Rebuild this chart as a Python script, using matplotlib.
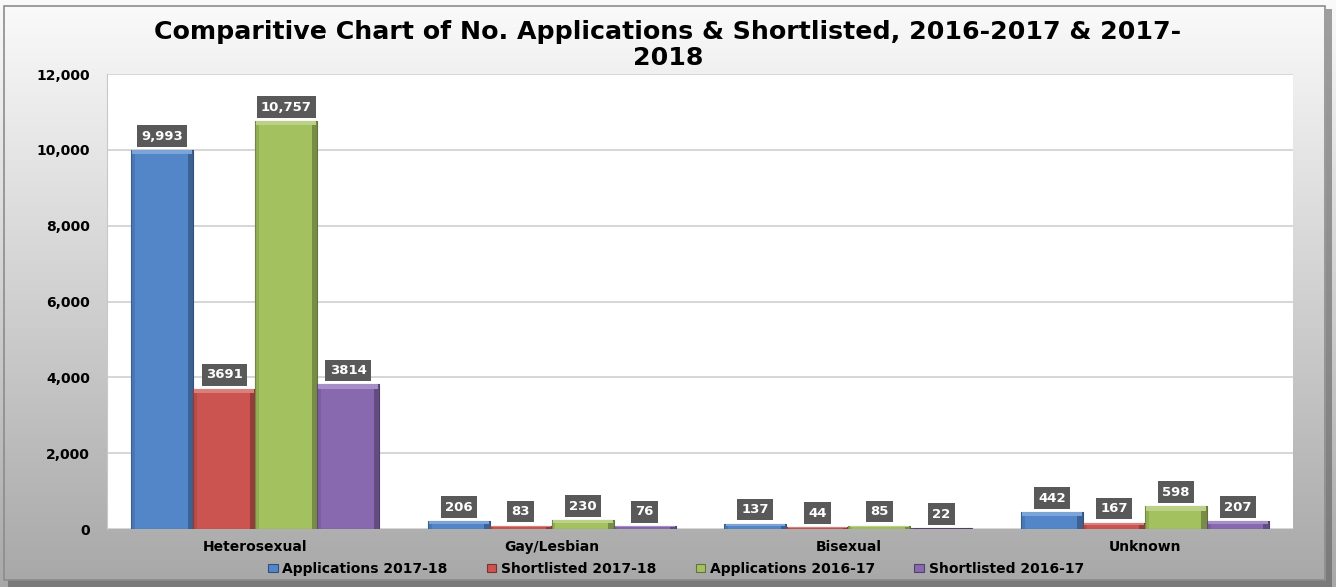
import numpy as np
import matplotlib
matplotlib.use('Agg')
import matplotlib.pyplot as plt
from matplotlib.patches import Rectangle
from matplotlib.colors import to_rgb

categories = ['Heterosexual', 'Gay/Lesbian', 'Bisexual', 'Unknown']
series_names = ['Applications 2017-18', 'Shortlisted 2017-18',
                'Applications 2016-17', 'Shortlisted 2016-17']
apps_1718 = [9993, 206, 137, 442]
short_1718 = [3691, 83, 44, 167]
apps_1617 = [10757, 230, 85, 598]
short_1617 = [3814, 76, 22, 207]
yticks = [0, 2000, 4000, 6000, 8000, 10000, 12000]

series = [apps_1718, short_1718, apps_1617, short_1617]
colors = ['#5286c9', '#cc5450', '#a3c25f', '#8869b0']
# applications are labelled with thousands separators, shortlisted without
label_fmt = ['{:,}', '{}', '{:,}', '{}']

fig = plt.figure(figsize=(13.36, 5.87), dpi=100)

# chart-area background: light at the top fading to grey at the bottom
bg = fig.add_axes([0, 0, 1, 1], zorder=-10)
grad = np.linspace(0.98, 0.66, 256).reshape(-1, 1)
bg.imshow(np.dstack([grad, grad, grad]), aspect='auto', extent=[0, 1, 0, 1],
          origin='upper')
bg.set_xlim(0, 1)
bg.set_ylim(0, 1)
bg.axis('off')
# shadow and border around the chart area
bg.add_patch(Rectangle((0.006, 0.0), 0.991, 0.985, fc='#555555', ec='none',
                       alpha=0.55, zorder=1))
bg.imshow(np.dstack([grad, grad, grad]), aspect='auto',
          extent=[0.003, 0.992, 0.012, 0.99], origin='upper', zorder=2)
bg.add_patch(Rectangle((0.003, 0.012), 0.989, 0.978, fc='none', ec='#8c8c8c',
                       lw=1.2, zorder=3))

ax = fig.add_axes([0.080, 0.0988, 0.888, 0.775])
ax.set_facecolor('white')

x = np.arange(len(categories))
w = 0.209
offsets = (np.arange(4) - 1.5) * w

def darker(c, f):
    r, g, b = to_rgb(c)
    return (r * f, g * f, b * f)

def lighter(c, f):
    r, g, b = to_rgb(c)
    return (r + (1 - r) * f, g + (1 - g) * f, b + (1 - b) * f)

handles = []
for vals, col, name, fmt, off in zip(series, colors, series_names, label_fmt, offsets):
    vals = np.array(vals)
    xs = x + off
    h = ax.bar(xs, vals, w, color=col, edgecolor=darker(col, 0.6), linewidth=0.8,
               label=name, zorder=3)
    handles.append(h)
    # bevel: dark right edge, light top edge
    ax.bar(xs + w / 2 - w * 0.045, vals, w * 0.09, color=darker(col, 0.55),
           alpha=0.6, linewidth=0, zorder=4)
    ax.bar(xs - w / 2 + w * 0.03, vals, w * 0.06, color=darker(col, 0.8),
           alpha=0.5, linewidth=0, zorder=4)
    top = np.minimum(110, vals * 0.35)
    ax.bar(xs, top, w * 0.96, bottom=vals - top, color=lighter(col, 0.25),
           linewidth=0, zorder=4)
    for xi, v in zip(xs, vals):
        ax.annotate(fmt.format(v), (xi, v), xytext=(0, 5.5), textcoords='offset points',
                    ha='center', va='bottom', color='white', fontsize=9.5,
                    fontweight='bold', zorder=6,
                    bbox=dict(boxstyle='square,pad=0.32', fc='#595959', ec='none'))

ax.set_xlim(-0.5, 3.5)
ax.set_ylim(0, 12000)
ax.set_yticks(yticks)
ax.set_yticklabels([f'{t:,}' for t in yticks], fontsize=10, fontweight='bold')
ax.set_xticks(x)
ax.set_xticklabels(categories, fontsize=10, fontweight='bold')
ax.tick_params(axis='y', length=0, pad=12)
ax.tick_params(axis='x', length=0, pad=8)
ax.grid(axis='y', color='#d0d0d0', linewidth=1.2, zorder=0)
ax.set_axisbelow(True)
for s in ['top', 'right', 'bottom']:
    ax.spines[s].set_visible(False)
ax.spines['left'].set_color('#c8c8c8')

fig.text(0.5, 0.880, 'Comparitive Chart of No. Applications & Shortlisted, 2016-2017 & 2017-\n2018',
         ha='center', va='bottom', fontsize=18.2, fontweight='bold',
         linespacing=1.12)

fig.legend(handles=handles, labels=series_names, loc='center', ncol=4,
           bbox_to_anchor=(0.506, 0.031), frameon=False, handlelength=0.7,
           handleheight=0.5, handletextpad=0.35, columnspacing=2.8,
           prop={'size': 10, 'weight': 'bold'})

fig.savefig('out.png', dpi=100)
